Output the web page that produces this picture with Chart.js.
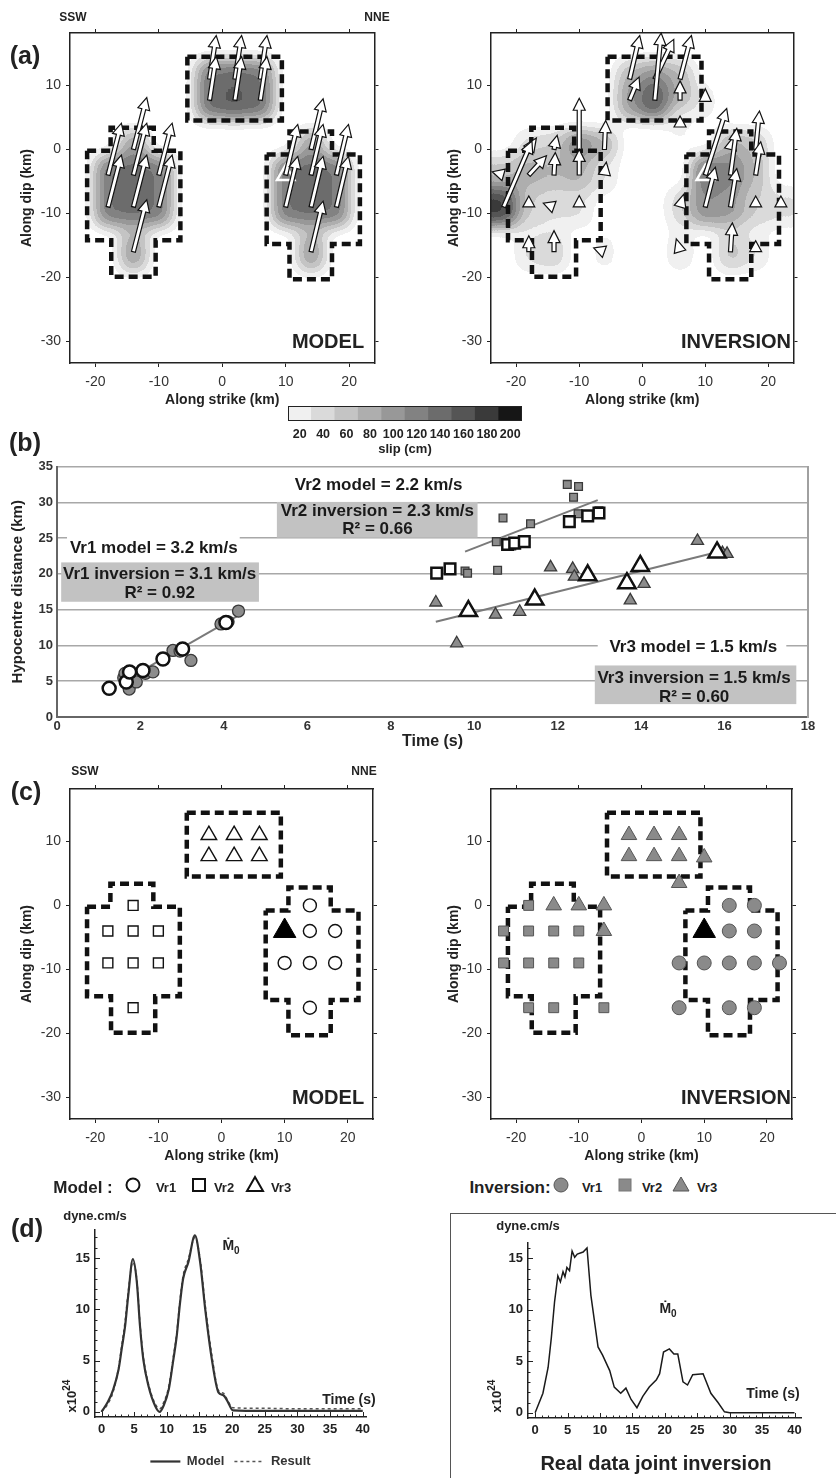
<!DOCTYPE html>
<html>
<head>
<meta charset="utf-8">
<script src="https://cdn.jsdelivr.net/npm/chart.js@4.4.1/dist/chart.umd.min.js"></script>
<style>
body { margin: 0; background: #fff; }
#page { position: relative; width: 836px; height: 1478px; overflow: hidden; background: #fff;
        font-family: 'Liberation Sans', Arial, sans-serif; color: #222; }
#page canvas { position: absolute; }
.t { position: absolute; white-space: nowrap; transform: translate(-50%, -50%); font-weight: bold; line-height: 1; }
.sym { position: absolute; transform: translate(-50%, -50%); }
</style>
</head>
<body>
<div id="page"></div>
<script>
const FONT = "'Liberation Sans', Arial, sans-serif";

// ---------- (a) / (c) map axes ----------
const strikeTicks = [-20, -10, 0, 10, 20];
const dipTicks = [10, 0, -10, -20, -30];

// fault segment outlines (km)
const leftSegX = [-21.3, -17.6, -17.6, -10.8, -10.8, -6.6, -6.6, -10.5, -10.5, -17.5, -17.5, -21.3, -21.3];
const leftSegY = [-0.2, -0.2, 3.4, 3.4, -0.2, -0.2, -14.2, -14.2, -19.9, -19.9, -14.2, -14.2, -0.2];
const topSegX = [-5.5, 9.4, 9.4, -5.5, -5.5];
const topSegY = [14.5, 14.5, 4.5, 4.5, 14.5];
const rightSegX = [7.0, 10.6, 10.6, 17.3, 17.3, 21.7, 21.7, 17.3, 17.3, 10.6, 10.6, 7.0, 7.0];
const rightSegY = [-0.8, -0.8, 2.8, 2.8, -0.8, -0.8, -14.8, -14.8, -20.3, -20.3, -14.8, -14.8, -0.8];

// (a) MODEL: subfault centres, slip (cm), slip vector (km on map)
const modelSubX = [-14, -18, -14, -10, -18, -14, -10, -14, -2, 2, 6, -2, 2, 6, 14, 10, 14, 18, 10, 14, 18, 14];
const modelSubY = [0, -4, -4, -4, -9, -9, -9, -16, 11, 11, 11, 7.7, 7.7, 7.7, 0, -4, -4, -4, -9, -9, -9, -16];
const modelSlip = [110, 140, 150, 140, 140, 150, 140, 110, 140, 150, 140, 150, 165, 150, 110, 140, 150, 140, 140, 150, 140, 110];
const modelU = [2.1, 2.1, 2.1, 2.1, 2.1, 2.1, 2.1, 2.1, 1.05, 1.05, 1.05, 1.05, 1.05, 1.05, 1.9, 1.9, 1.9, 1.9, 1.9, 1.9, 1.9, 1.9];
const modelV = [8.1, 8.1, 8.1, 8.1, 8.1, 8.1, 8.1, 8.1, 6.8, 6.8, 6.8, 6.8, 6.8, 6.8, 7.9, 7.9, 7.9, 7.9, 7.9, 7.9, 7.9, 7.9];

// (a) INVERSION
const invSubX = [-18, -14, -10, -6, -22, -18, -14, -10, -6, -22, -18, -14, -10, -18, -14, -6,
                 -2, 2, 6, -2, 2, 6, 10, 6,
                 14, 18, 10, 14, 18, 6, 10, 14, 18, 22, 6, 14, 18];
const invSubY = [0, 0, 0, 0, -4, -4, -4, -4, -4, -9, -9, -9, -9, -16, -16, -16,
                 11, 11, 11, 7.7, 7.7, 7.7, 7.5, 3.5,
                 0, 0, -4, -4, -4, -9, -9, -9, -9, -9, -16, -16, -16];
const invSlip = [50, 60, 130, 90, 70, 90, 80, 90, 40, 190, 60, 45, 45, 45, 60, 30,
                 80, 110, 80, 110, 170, 90, 30, 25,
                 90, 70, 150, 130, 80, 55, 120, 110, 60, 45, 40, 70, 40];
const invU = [1.2, 0.5, 0, 0.2, -1.8, 2.8, 0.2, 0, 0.3, 4.5, 0, -1.7, 0, 0, 0, -1.7,
              1.6, 3, 1.8, 1.5, 1, 0, 0, 0,
              0.5, 0.6, 3.4, 1, 0.8, 0.6, 1.6, 1, 0, 0, -0.6, 0.3, 0];
const invV = [1.8, 2.2, 8, 4.5, 0.5, 3.0, 3.5, 4, 2, 10.3, 1.6, 0.6, 1.8, 2.5, 3.3, 0.6,
              6.8, 6.2, 6.8, 3.6, 10.5, 3, 2, 1.7,
              2, 6, 10.4, 7.3, 5.2, 2, 6.2, 6, 1.6, 1.6, 2, 4.5, 1.6];

const hypoX = [10];
const hypoY = [-4];

// colour bar
const slipLevels = ['20', '40', '60', '80', '100', '120', '140', '160', '180', '200'];
const colorbarCells = [1, 1, 1, 1, 1, 1, 1, 1, 1, 1];
const greyRGB = [240, 218, 196, 174, 152, 130, 108, 85, 58, 22];

// ---------- (b) ----------
const timeTicks = [0, 2, 4, 6, 8, 10, 12, 14, 16, 18];
const distTicks = [0, 5, 10, 15, 20, 25, 30, 35];
const vr1ModelT = [1.25, 1.66, 1.74, 2.06, 2.54, 3.01, 4.05];
const vr1ModelD = [4.0, 4.9, 6.3, 6.5, 8.1, 9.5, 13.2];
const vr1InvT = [1.60, 1.63, 1.73, 1.90, 2.12, 2.30, 2.78, 2.95, 3.21, 3.93, 4.10, 4.35];
const vr1InvD = [5.5, 6.1, 3.9, 4.9, 6.1, 6.3, 9.3, 9.2, 7.9, 13.0, 13.3, 14.8];
const vr1FitT = [1.6, 4.35];
const vr1FitD = [5.0, 14.2];
const vr2ModelT = [9.10, 9.42, 10.80, 10.97, 11.20, 12.28, 12.72, 12.99];
const vr2ModelD = [20.1, 20.7, 24.1, 24.3, 24.5, 27.3, 28.1, 28.5];
const vr2InvT = [9.78, 9.84, 10.53, 10.56, 10.69, 10.90, 11.35, 12.23, 12.38, 12.49, 12.50, 12.99];
const vr2InvD = [20.4, 20.1, 24.5, 20.5, 27.8, 23.9, 27.0, 32.5, 30.7, 28.4, 32.2, 28.8];
const vr2FitT = [9.78, 12.96];
const vr2FitD = [23.1, 30.3];
const vr3ModelT = [9.86, 11.45, 12.72, 13.66, 13.98, 15.82];
const vr3ModelD = [14.8, 16.4, 19.8, 18.7, 21.1, 23.0];
const vr3InvT = [9.08, 9.58, 10.51, 11.09, 11.45, 11.83, 12.36, 12.40, 13.74, 14.07, 15.35, 15.95, 16.06];
const vr3InvD = [16.0, 10.3, 14.3, 14.7, 16.6, 20.9, 20.7, 19.6, 16.3, 18.6, 24.6, 22.9, 22.8];
const vr3FitT = [9.08, 15.86];
const vr3FitD = [13.3, 23.1];

// ---------- (c) ----------
const modelVr1X = [14, 14, 18, 10, 14, 18, 14];
const modelVr1Y = [0, -4, -4, -9, -9, -9, -16];
const modelVr2X = [-14, -18, -14, -10, -18, -14, -10, -14];
const modelVr2Y = [0, -4, -4, -4, -9, -9, -9, -16];
const modelVr3X = [-2, 2, 6, -2, 2, 6];
const modelVr3Y = [11, 11, 11, 7.7, 7.7, 7.7];
const invVr1X = [14, 18, 14, 18, 6, 10, 14, 18, 22, 6, 14, 18];
const invVr1Y = [0, 0, -4, -4, -9, -9, -9, -9, -9, -16, -16, -16];
const invVr2X = [-18, -22, -18, -14, -10, -22, -18, -14, -10, -18, -14, -6];
const invVr2Y = [0, -4, -4, -4, -4, -9, -9, -9, -9, -16, -16, -16];
const invVr3X = [-2, 2, 6, -2, 2, 6, 10, 6, -14, -10, -6, -6];
const invVr3Y = [11, 11, 11, 7.7, 7.7, 7.7, 7.5, 3.5, 0, 0, 0, -4];

// ---------- (d) moment rate, x10^24 dyne.cm/s ----------
const rateTimeTicks = [0, 5, 10, 15, 20, 25, 30, 35, 40];
const rateTicks = [0, 5, 10, 15];
const modelRateT = [0, 1, 1.8, 2.6, 3.1, 3.6, 4.1, 4.8, 5.4, 5.9, 6.4, 7.2, 8.2, 8.9, 9.5, 10.3, 11, 11.5, 12, 12.5, 13.3, 14.3, 15.1, 15.9, 16.9, 17.9, 18.7, 19.4, 20.1, 25, 30, 35, 40];
const modelRate = [0, 1.0, 2.2, 4.1, 6.2, 8.3, 11.4, 14.9, 12.7, 8.3, 5.1, 2.5, 0.6, 0, 0.6, 2.2, 5.1, 7.3, 10.5, 13, 14.6, 17.2, 14.6, 9.9, 5.1, 1.9, 1.6, 0.9, 0.15, 0.1, 0.1, 0.1, 0.1];
const resultRate = [0, 0.8, 2.0, 4.3, 6.5, 8.8, 11.8, 14.6, 12.9, 8.6, 5.4, 2.7, 0.8, 0.3, 0.9, 2.5, 5.4, 7.6, 10.8, 13.3, 14.9, 17.0, 14.9, 10.3, 5.5, 2.1, 1.8, 1.0, 0.4, 0.35, 0.3, 0.3, 0.3];
const realT = [0, 1.2, 2, 2.5, 3, 3.5, 3.9, 4.3, 4.6, 4.9, 5.3, 5.7, 6.1, 6.5, 7.4, 8, 8.6, 9.7, 10.4, 11.5, 12.2, 13.2, 14, 14.8, 15.7, 16.6, 17.6, 18.7, 19.2, 19.8, 20.7, 21.4, 22, 22.8, 23.5, 24.3, 25.9, 27.1, 28.2, 29.2, 30, 35, 40];
const realRate = [0, 1.9, 4.4, 7.3, 10.8, 13.3, 12.7, 13.7, 13.2, 14.1, 13.8, 15.7, 15.1, 15.4, 15.6, 16.0, 11.4, 6.4, 5.6, 4.1, 2.5, 1.9, 2.4, 1.3, 0.5, 1.6, 2.5, 3.2, 3.8, 5.9, 6.2, 5.7, 5.7, 3.0, 2.7, 3.7, 3.8, 1.9, 1.0, 0.1, 0, 0, 0];

// ---------- helpers ----------
Chart.defaults.font.family = FONT;
Chart.defaults.color = '#222';
Chart.defaults.animation = false;
Chart.defaults.responsive = false;
Chart.defaults.events = [];
Chart.defaults.plugins.legend.display = false;
Chart.defaults.plugins.tooltip.enabled = false;

const page = document.getElementById('page');

function makeCanvas(id, left, top, w, h) {
  const c = document.createElement('canvas');
  c.id = id;
  c.width = w;
  c.height = h;
  c.style.left = left + 'px';
  c.style.top = top + 'px';
  c.style.width = w + 'px';
  c.style.height = h + 'px';
  page.appendChild(c);
  return c;
}

function txt(html, x, y, css) {
  const d = document.createElement('div');
  d.className = 't';
  d.innerHTML = html;
  d.style.left = x + 'px';
  d.style.top = y + 'px';
  if (css) d.style.cssText += css;
  page.appendChild(d);
  return d;
}

function sym(svg, x, y) {
  const d = document.createElement('div');
  d.className = 'sym';
  d.style.left = x + 'px';
  d.style.top = y + 'px';
  d.innerHTML = svg;
  page.appendChild(d);
}

function pts(xs, ys) {
  return xs.map((x, i) => ({x: x, y: ys[i]}));
}

function fixTicks(vals) {
  return s => { s.ticks = vals.map(v => ({value: v})); };
}

// slip field: subfault cells, blurred, then cut into the colour-bar levels
function slipFieldPlugin(xs, ys, slip) {
  return {
    id: 'slipField',
    beforeDraw(chart) {
      const a = chart.chartArea, sx = chart.scales.x, sy = chart.scales.y;
      const w = Math.round(a.right - a.left), h = Math.round(a.bottom - a.top);
      const src = document.createElement('canvas');
      src.width = w; src.height = h;
      const g = src.getContext('2d');
      g.fillStyle = '#000';
      g.fillRect(0, 0, w, h);
      xs.forEach((x, i) => {
        const s = Math.round(slip[i]);
        g.fillStyle = 'rgb(' + s + ',' + s + ',' + s + ')';
        const x0 = sx.getPixelForValue(x - 2.1) - a.left, x1 = sx.getPixelForValue(x + 2.1) - a.left;
        const y0 = sy.getPixelForValue(ys[i] + 3.0) - a.top, y1 = sy.getPixelForValue(ys[i] - 3.0) - a.top;
        g.fillRect(x0, y0, x1 - x0, y1 - y0);
      });
      const out = document.createElement('canvas');
      out.width = w; out.height = h;
      const b = out.getContext('2d');
      b.filter = 'blur(9px)';
      b.drawImage(src, 0, 0);
      const img = b.getImageData(0, 0, w, h), d = img.data;
      for (let p = 0; p < d.length; p += 4) {
        const lev = Math.min(Math.floor(d[p] / 20), 10);
        if (lev < 1 || d[p + 3] === 0) { d[p + 3] = 0; continue; }
        const c = greyRGB[lev - 1];
        d[p] = c; d[p + 1] = c; d[p + 2] = c; d[p + 3] = 255;
      }
      b.putImageData(img, 0, 0);
      chart.ctx.drawImage(out, a.left, a.top);
    }
  };
}

function drawArrow(ctx, x0, y0, x1, y1) {
  let dx = x1 - x0, dy = y1 - y0, L = Math.hypot(dx, dy);
  const ux = dx / L, uy = dy / L, nx = -uy, ny = ux;
  const head = 12, hw = 6, sw = 2;
  ctx.beginPath();
  if (L > head + 2) {
    const bx = x1 - ux * head, by = y1 - uy * head;
    ctx.moveTo(x0 + nx * sw, y0 + ny * sw);
    ctx.lineTo(bx + nx * sw, by + ny * sw);
    ctx.lineTo(bx + nx * hw, by + ny * hw);
    ctx.lineTo(x1, y1);
    ctx.lineTo(bx - nx * hw, by - ny * hw);
    ctx.lineTo(bx - nx * sw, by - ny * sw);
    ctx.lineTo(x0 - nx * sw, y0 - ny * sw);
  } else {
    const len = Math.max(L, 11);
    const tx = x0 + ux * len, ty = y0 + uy * len;
    ctx.moveTo(x0 + nx * hw, y0 + ny * hw);
    ctx.lineTo(tx, ty);
    ctx.lineTo(x0 - nx * hw, y0 - ny * hw);
  }
  ctx.closePath();
  ctx.fillStyle = '#fff';
  ctx.fill();
  ctx.lineWidth = 1.2;
  ctx.strokeStyle = '#111';
  ctx.stroke();
}

function slipArrowsPlugin(xs, ys, us, vs) {
  return {
    id: 'slipArrows',
    afterDatasetsDraw(chart) {
      const sx = chart.scales.x, sy = chart.scales.y, ctx = chart.ctx;
      ctx.save();
      xs.forEach((x, i) => {
        drawArrow(ctx, sx.getPixelForValue(x), sy.getPixelForValue(ys[i]),
          sx.getPixelForValue(x + us[i]), sy.getPixelForValue(ys[i] + vs[i]));
      });
      ctx.restore();
    }
  };
}

function mapAxes(yTitlePad) {
  const tickLine = {drawOnChartArea: false, drawTicks: true, tickLength: 4, color: '#222', lineWidth: 1};
  const edge = {display: true, color: '#222', width: 1.5};
  return {
    x: {type: 'linear', position: 'bottom', min: -24, max: 24, afterBuildTicks: fixTicks(strikeTicks),
        afterFit: s => { s.height = 47; }, grid: tickLine, border: edge,
        ticks: {font: {size: 14}, color: '#333', padding: 7, maxRotation: 0, autoSkip: false},
        title: {display: true, text: 'Along strike (km)', font: {size: 14, weight: 'bold'}, padding: {top: 0, bottom: 1}}},
    x2: {type: 'linear', position: 'top', min: -24, max: 24, afterBuildTicks: fixTicks(strikeTicks),
         afterFit: s => { s.height = 20; }, grid: tickLine, border: edge, ticks: {display: false}},
    y: {type: 'linear', position: 'left', min: -33.4, max: 18.2, afterBuildTicks: fixTicks(dipTicks),
        afterFit: s => { s.width = 70; }, grid: tickLine, border: edge,
        ticks: {font: {size: 14}, color: '#333', padding: 5, autoSkip: false},
        title: {display: true, text: 'Along dip (km)', font: {size: 14, weight: 'bold'}, padding: {top: yTitlePad, bottom: 0}}},
    y2: {type: 'linear', position: 'right', min: -33.4, max: 18.2, afterBuildTicks: fixTicks(dipTicks),
         afterFit: s => { s.width = 10; }, grid: tickLine, border: edge, ticks: {display: false}}
  };
}

function outlineSets() {
  return [[leftSegX, leftSegY], [topSegX, topSegY], [rightSegX, rightSegY]].map(p => ({
    data: pts(p[0], p[1]), showLine: true, borderColor: '#111', borderWidth: 4.5,
    borderDash: [9, 5], pointRadius: 0, fill: false, tension: 0, order: 5
  }));
}

function slipChart(id, areaLeft, areaW, yTitlePad, sx, sy, slip, u, v) {
  const cv = makeCanvas(id, areaLeft - 70, 13, 70 + areaW + 10, 397);
  return new Chart(cv, {
    type: 'scatter',
    data: {datasets: [
      ...outlineSets(),
      {data: pts(hypoX, hypoY), pointStyle: 'triangle', pointRadius: 10,
       pointBackgroundColor: 'rgba(0,0,0,0)', pointBorderColor: '#fff', pointBorderWidth: 2.5, order: 1}
    ]},
    options: {devicePixelRatio: 1, layout: {padding: 0}, scales: mapAxes(yTitlePad)},
    plugins: [slipFieldPlugin(sx, sy, slip), slipArrowsPlugin(sx, sy, u, v)]
  });
}

function markerChart(id, areaLeft, areaW, yTitlePad, sets) {
  const cv = makeCanvas(id, areaLeft - 70, 769, 70 + areaW + 10, 397);
  return new Chart(cv, {
    type: 'scatter',
    data: {datasets: [...outlineSets(), ...sets]},
    options: {devicePixelRatio: 1, layout: {padding: 0}, scales: mapAxes(yTitlePad)}
  });
}

function notesPlugin(items) {
  return {
    id: 'notes',
    beforeDatasetsDraw(chart) {
      const sx = chart.scales.x, sy = chart.scales.y, ctx = chart.ctx;
      ctx.save();
      items.forEach(it => {
        if (it.box) {
          const x0 = sx.getPixelForValue(it.box[0]), x1 = sx.getPixelForValue(it.box[1]);
          const y0 = sy.getPixelForValue(it.box[3]), y1 = sy.getPixelForValue(it.box[2]);
          ctx.fillStyle = it.fill;
          ctx.fillRect(x0, y0, x1 - x0, y1 - y0);
        } else {
          ctx.font = 'bold 17px ' + FONT;
          ctx.fillStyle = '#1a1a1a';
          ctx.textAlign = 'center';
          ctx.textBaseline = 'middle';
          ctx.fillText(it.text, sx.getPixelForValue(it.x), sy.getPixelForValue(it.y));
        }
      });
      ctx.restore();
    }
  };
}

const framePlugin = {
  id: 'frame',
  afterDraw(chart) {
    const a = chart.chartArea, ctx = chart.ctx;
    ctx.save();
    ctx.strokeStyle = '#222';
    ctx.lineWidth = 1;
    ctx.strokeRect(a.left + 0.5, a.top + 0.5, a.right - a.left - 1, a.bottom - a.top - 1);
    ctx.restore();
  }
};

const innerTicksPlugin = {
  id: 'innerTicks',
  afterDatasetsDraw(chart) {
    const a = chart.chartArea, sx = chart.scales.x, sy = chart.scales.y, ctx = chart.ctx;
    ctx.save();
    ctx.strokeStyle = '#222';
    ctx.lineWidth = 1;
    ctx.beginPath();
    for (let v = 0; v <= 40; v += 1) {
      const px = Math.round(sx.getPixelForValue(v)) + 0.5, len = v % 5 === 0 ? 5 : 2.5;
      ctx.moveTo(px, a.bottom);
      ctx.lineTo(px, a.bottom - len);
    }
    for (let v = 0; v <= sy.max; v += 1) {
      const py = Math.round(sy.getPixelForValue(v)) + 0.5, len = v % 5 === 0 ? 5 : 2.5;
      ctx.moveTo(a.left, py);
      ctx.lineTo(a.left + len, py);
    }
    ctx.stroke();
    ctx.restore();
  }
};

// ---------- (a) slip maps ----------
slipChart('slipModel', 70, 307, 19, modelSubX, modelSubY, modelSlip, modelU, modelV);
slipChart('slipInv', 491, 305, 25, invSubX, invSubY, invSlip, invU, invV);

// ---------- colour bar ----------
new Chart(makeCanvas('cbar', 278, 404, 254, 54), {
  type: 'bar',
  data: {labels: slipLevels, datasets: [{data: colorbarCells,
    backgroundColor: greyRGB.map(c => 'rgb(' + c + ',' + c + ',' + c + ')'),
    borderWidth: 0, barPercentage: 1, categoryPercentage: 1}]},
  options: {
    devicePixelRatio: 1,
    layout: {padding: {left: 10, right: 10, top: 2, bottom: 0}},
    scales: {
      x: {grid: {display: false, drawTicks: false}, border: {display: false}, afterFit: s => { s.height = 37; },
          ticks: {font: {size: 12.5, weight: 'bold'}, color: '#222', padding: 6, maxRotation: 0, autoSkip: false},
          title: {display: true, text: 'slip (cm)', font: {size: 13, weight: 'bold'}, padding: {top: 0, bottom: 1}}},
      y: {display: false, min: 0, max: 1}
    }
  },
  plugins: [framePlugin]
});

// ---------- (b) hypocentre distance vs time ----------
const openPt = {pointBackgroundColor: '#fff', pointBorderColor: '#111', pointBorderWidth: 2.5, order: 0};
const greyPt = {pointBackgroundColor: '#8c8c8c', pointBorderColor: '#3a3a3a', pointBorderWidth: 1.3, order: 1};
const fitLine = {showLine: true, borderColor: '#7a7a7a', borderWidth: 2, pointRadius: 0, order: 2};
new Chart(makeCanvas('chartB', 0, 454, 823, 299), {
  type: 'scatter',
  data: {datasets: [
    {data: pts(vr1ModelT, vr1ModelD), pointStyle: 'circle', pointRadius: 6.5, ...openPt},
    {data: pts(vr2ModelT, vr2ModelD), pointStyle: 'rect', pointRadius: 7.5, ...openPt},
    {data: pts(vr3ModelT, vr3ModelD), pointStyle: 'triangle', pointRadius: 10, ...openPt},
    {data: pts(vr1InvT, vr1InvD), pointStyle: 'circle', pointRadius: 6, ...greyPt},
    {data: pts(vr2InvT, vr2InvD), pointStyle: 'rect', pointRadius: 5.5, ...greyPt},
    {data: pts(vr3InvT, vr3InvD), pointStyle: 'triangle', pointRadius: 7, ...greyPt},
    {data: pts(vr1FitT, vr1FitD), ...fitLine},
    {data: pts(vr2FitT, vr2FitD), ...fitLine},
    {data: pts(vr3FitT, vr3FitD), ...fitLine}
  ]},
  options: {
    devicePixelRatio: 1,
    layout: {padding: {top: 10}},
    scales: {
      x: {type: 'linear', min: 0, max: 18, afterBuildTicks: fixTicks(timeTicks), afterFit: s => { s.height = 36; },
          grid: {display: false, drawTicks: false}, border: {color: '#666', width: 2},
          ticks: {font: {size: 13, weight: 'bold'}, color: '#333', padding: 2, maxRotation: 0, autoSkip: false},
          title: {display: true, text: 'Time (s)', font: {size: 16, weight: 'bold'}, padding: {top: 0, bottom: 2}}},
      y: {min: 0, max: 35, afterBuildTicks: fixTicks(distTicks), afterFit: s => { s.width = 57; },
          grid: {drawTicks: false, lineWidth: 1.5, color: c => c.tick.value === 0 ? 'rgba(0,0,0,0)' : '#a8a8a8'},
          border: {color: '#666', width: 2},
          ticks: {font: {size: 13, weight: 'bold'}, color: '#333', padding: 4, autoSkip: false},
          title: {display: true, text: 'Hypocentre distance (km)', font: {size: 15, weight: 'bold'}, padding: {top: 9, bottom: 0}}},
      y2: {type: 'linear', position: 'right', min: 0, max: 35, afterFit: s => { s.width = 15; },
           grid: {display: false, drawTicks: false}, border: {color: '#a0a0a0', width: 2}, ticks: {display: false}}
    }
  },
  plugins: [notesPlugin([
    {box: [0.24, 4.38, 22.3, 25.2], fill: '#fff'},
    {text: 'Vr1 model = 3.2 km/s', x: 2.32, y: 23.6},
    {box: [0.1, 4.84, 16.1, 21.6], fill: '#c2c2c2'},
    {text: 'Vr1 inversion = 3.1 km/s', x: 2.46, y: 19.9},
    {text: 'R² = 0.92', x: 2.46, y: 17.3},
    {text: 'Vr2 model = 2.2 km/s', x: 7.71, y: 32.4},
    {box: [5.27, 10.08, 25.07, 30.05], fill: '#c2c2c2'},
    {text: 'Vr2 inversion = 2.3 km/s', x: 7.68, y: 28.8},
    {text: 'R² = 0.66', x: 7.68, y: 26.2},
    {box: [12.96, 17.48, 8.5, 11], fill: '#fff'},
    {text: 'Vr3 model = 1.5 km/s', x: 15.25, y: 9.74},
    {box: [12.89, 17.72, 1.8, 7.2], fill: '#c2c2c2'},
    {text: 'Vr3 inversion = 1.5 km/s', x: 15.27, y: 5.45},
    {text: 'R² = 0.60', x: 15.27, y: 2.8}
  ])]
});

// ---------- (c) rupture velocity maps ----------
const modelMk = {pointBackgroundColor: '#fff', pointBorderColor: '#111', pointBorderWidth: 1.4, order: 1};
const invMk = {pointBackgroundColor: '#8a8a8a', pointBorderColor: '#555', pointBorderWidth: 1, order: 1};
const hypoMk = {pointStyle: 'triangle', pointRadius: 13, pointBackgroundColor: '#000', pointBorderColor: '#000', pointBorderWidth: 1, order: 0};
markerChart('velModel', 70, 307, 19, [
  {data: pts(modelVr1X, modelVr1Y), pointStyle: 'circle', pointRadius: 6.5, ...modelMk},
  {data: pts(modelVr2X, modelVr2Y), pointStyle: 'rect', pointRadius: 7, ...modelMk},
  {data: pts(modelVr3X, modelVr3Y), pointStyle: 'triangle', pointRadius: 9, ...modelMk},
  {data: pts(hypoX, hypoY), ...hypoMk}
]);
markerChart('velInv', 491, 305, 25, [
  {data: pts(invVr1X, invVr1Y), pointStyle: 'circle', pointRadius: 7, ...invMk},
  {data: pts(invVr2X, invVr2Y), pointStyle: 'rect', pointRadius: 7, ...invMk},
  {data: pts(invVr3X, invVr3Y), pointStyle: 'triangle', pointRadius: 9, ...invMk},
  {data: pts(hypoX, hypoY), ...hypoMk}
]);

// ---------- (d) moment rate functions ----------
function rateAxes(xMin, xMax, yMax, yW) {
  return {
    x: {type: 'linear', min: xMin, max: xMax, afterBuildTicks: fixTicks(rateTimeTicks), afterFit: s => { s.height = 28; },
        grid: {display: false, drawTicks: false}, border: {color: '#222', width: 1.5},
        ticks: {font: {size: 13, weight: 'bold'}, color: '#222', padding: 5, maxRotation: 0, autoSkip: false}},
    y: {type: 'linear', min: -0.5, max: yMax, afterBuildTicks: fixTicks(rateTicks), afterFit: s => { s.width = yW; },
        grid: {display: false, drawTicks: false}, border: {color: '#222', width: 1.5},
        ticks: {font: {size: 13, weight: 'bold'}, color: '#222', padding: 5, autoSkip: false}}
  };
}

new Chart(makeCanvas('rateModel', 0, 1217, 386, 261), {
  type: 'scatter',
  data: {datasets: [
    {label: 'Model', data: pts(modelRateT, modelRate), showLine: true, borderColor: '#333', borderWidth: 2.2,
     pointRadius: 0, cubicInterpolationMode: 'monotone'},
    {label: 'Result', data: pts(modelRateT, resultRate), showLine: true, borderColor: '#555', borderWidth: 1.5,
     borderDash: [3, 3], pointRadius: 0, cubicInterpolationMode: 'monotone'}
  ]},
  options: {
    devicePixelRatio: 1,
    layout: {padding: {top: 10, right: 20}},
    scales: rateAxes(-1, 40.5, 17.75, 95),
    plugins: {legend: {display: true, position: 'bottom', fullSize: false,
      labels: {usePointStyle: true, pointStyle: 'line', pointStyleWidth: 30, boxHeight: 12, padding: 10,
               font: {size: 13, weight: 'bold'}, color: '#333',
               generateLabels: chart => Chart.defaults.plugins.legend.labels.generateLabels(chart).map((it, i) => {
                 const ds = chart.data.datasets[i];
                 return Object.assign(it, {pointStyle: 'line', lineDash: ds.borderDash || [],
                   lineWidth: ds.borderWidth, strokeStyle: ds.borderColor});
               })}}}
  },
  plugins: [innerTicksPlugin]
});

new Chart(makeCanvas('rateReal', 468, 1230, 353, 216), {
  type: 'scatter',
  data: {datasets: [
    {label: 'Real data', data: pts(realT, realRate), showLine: true, borderColor: '#1a1a1a', borderWidth: 1.5, pointRadius: 0}
  ]},
  options: {
    devicePixelRatio: 1,
    layout: {padding: {top: 10, right: 20}},
    scales: rateAxes(-1.1, 41, 16.5, 60)
  },
  plugins: [innerTicksPlugin]
});

// ---------- free text ----------
const big = 'font-size:25px;';
txt('(a)', 25, 55, big);
txt('(b)', 25, 442, big);
txt('(c)', 26, 791, big);
txt('(d)', 27, 1228, big);
txt('SSW', 73, 17, 'font-size:12px;');
txt('NNE', 377, 17, 'font-size:12px;');
txt('SSW', 85, 771, 'font-size:12px;');
txt('NNE', 364, 771, 'font-size:12px;');
txt('MODEL', 328, 341, 'font-size:20px;');
txt('INVERSION', 736, 341, 'font-size:20px;');
txt('MODEL', 328, 1097, 'font-size:20px;');
txt('INVERSION', 736, 1097, 'font-size:20px;');

// (c) legends
txt('Model :', 83, 1187, 'font-size:17px;');
sym('<svg width="18" height="18"><circle cx="9" cy="9" r="6.5" fill="#fff" stroke="#111" stroke-width="2"/></svg>', 133, 1187);
txt('Vr1', 166, 1187, 'font-size:13px;');
sym('<svg width="16" height="16"><rect x="2" y="2" width="12" height="12" fill="#fff" stroke="#111" stroke-width="2"/></svg>', 199, 1187);
txt('Vr2', 224, 1187, 'font-size:13px;');
sym('<svg width="20" height="18"><polygon points="10,2 18,16 2,16" fill="#fff" stroke="#111" stroke-width="2"/></svg>', 255, 1186);
txt('Vr3', 281, 1187, 'font-size:13px;');
txt('Inversion:', 510, 1187, 'font-size:17px;');
sym('<svg width="18" height="18"><circle cx="9" cy="9" r="7" fill="#8a8a8a" stroke="#555" stroke-width="1"/></svg>', 561, 1187);
txt('Vr1', 592, 1187, 'font-size:13px;');
sym('<svg width="16" height="16"><rect x="2" y="2" width="12" height="12" fill="#8a8a8a" stroke="#777" stroke-width="1"/></svg>', 625, 1187);
txt('Vr2', 652, 1187, 'font-size:13px;');
sym('<svg width="20" height="18"><polygon points="10,2 18,16 2,16" fill="#8a8a8a" stroke="#555" stroke-width="1"/></svg>', 681, 1186);
txt('Vr3', 707, 1187, 'font-size:13px;');

// (d) labels
txt('dyne.cm/s', 95, 1215, 'font-size:13px;');
txt('x10<sup style="font-size:10px">24</sup>', 70, 1396, 'font-size:13px; transform: translate(-50%,-50%) rotate(-90deg);');
txt('Time (s)', 349, 1399, 'font-size:14px;');
txt('Ṁ<sub style="font-size:10px">0</sub>', 231, 1247, 'font-size:14px;');
const box = document.createElement('div');
box.style.cssText = 'position:absolute; left:450px; top:1213px; width:420px; height:300px; border:1.5px solid #555;';
page.appendChild(box);
txt('dyne.cm/s', 528, 1225, 'font-size:13px;');
txt('x10<sup style="font-size:10px">24</sup>', 495, 1396, 'font-size:13px; transform: translate(-50%,-50%) rotate(-90deg);');
txt('Time (s)', 773, 1393, 'font-size:14px;');
txt('Ṁ<sub style="font-size:10px">0</sub>', 668, 1310, 'font-size:14px;');
txt('Real data joint inversion', 656, 1463, 'font-size:20px;');
</script>
</body>
</html>
